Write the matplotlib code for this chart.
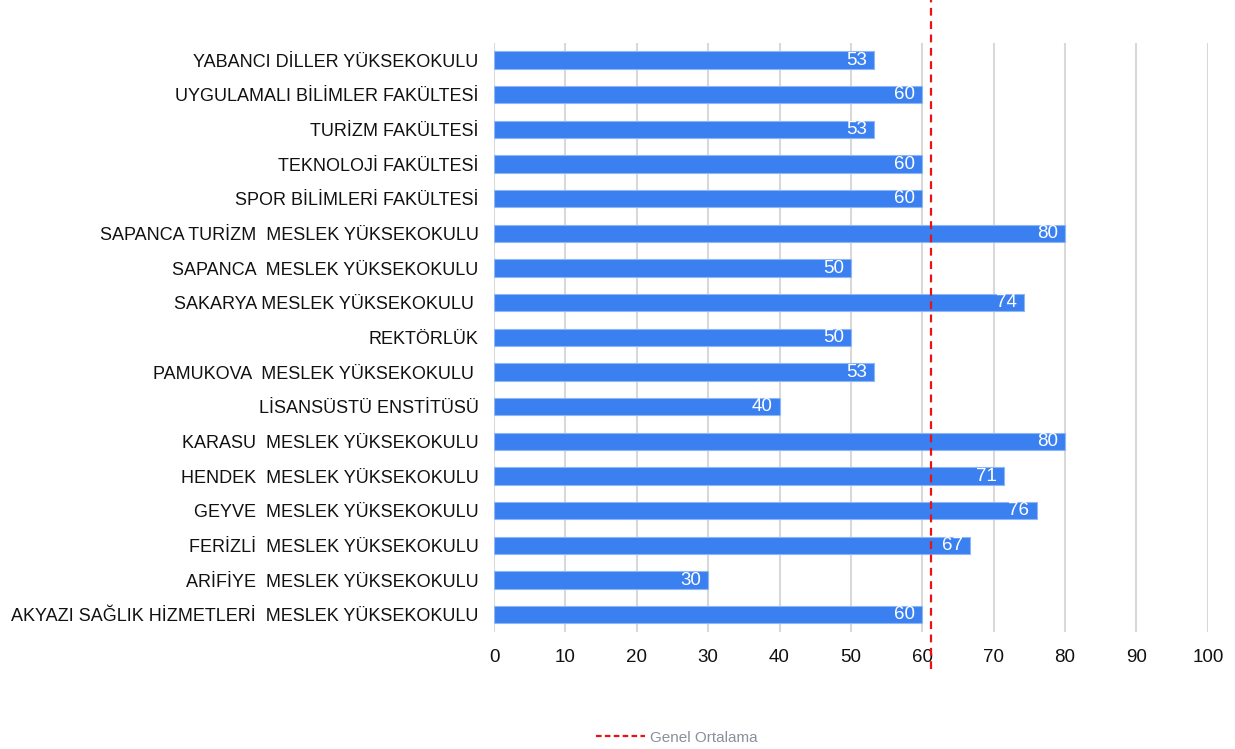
import numpy as np
import matplotlib.pyplot as plt
from matplotlib.lines import Line2D

plt.rcParams['font.family'] = ['Liberation Sans', 'DejaVu Sans']

# Data (top to bottom as shown)
birimler = [
    "YABANCI DİLLER YÜKSEKOKULU",
    "UYGULAMALI BİLİMLER FAKÜLTESİ",
    "TURİZM FAKÜLTESİ",
    "TEKNOLOJİ FAKÜLTESİ",
    "SPOR BİLİMLERİ FAKÜLTESİ",
    "SAPANCA TURİZM  MESLEK YÜKSEKOKULU",
    "SAPANCA  MESLEK YÜKSEKOKULU",
    "SAKARYA MESLEK YÜKSEKOKULU ",
    "REKTÖRLÜK",
    "PAMUKOVA  MESLEK YÜKSEKOKULU ",
    "LİSANSÜSTÜ ENSTİTÜSÜ",
    "KARASU  MESLEK YÜKSEKOKULU",
    "HENDEK  MESLEK YÜKSEKOKULU",
    "GEYVE  MESLEK YÜKSEKOKULU",
    "FERİZLİ  MESLEK YÜKSEKOKULU",
    "ARİFİYE  MESLEK YÜKSEKOKULU",
    "AKYAZI SAĞLIK HİZMETLERİ  MESLEK YÜKSEKOKULU",
]
puanlar = [53.3, 60, 53.3, 60, 60, 80, 50, 74.3, 50, 53.3, 40, 80, 71.4, 76, 66.7, 30, 60]
etiketler = ["53", "60", "53", "60", "60", "80", "50", "74", "50", "53", "40", "80", "71", "76", "67", "30", "60"]
genel_ortalama = 61.2

fig = plt.figure(figsize=(12.35, 7.49), dpi=100)
ax = fig.add_axes([0.4, 0.156, 0.578, 0.787])

y = np.arange(len(birimler))[::-1]
bars = ax.barh(y, puanlar, height=0.5, color="#3a80f0", edgecolor="#8fb6f5", linewidth=0.8, zorder=2)

for b, lab in zip(bars, etiketler):
    ax.text(b.get_width() - 1.0, b.get_y() + b.get_height() / 2, lab,
            ha="right", va="center", color="white", fontsize=13.5, zorder=3)

ax.set_xlim(0, 100)
ax.set_ylim(-0.5, len(birimler) - 0.5)
ax.set_xticks(np.arange(0, 101, 10))
ax.set_yticks(y)
ax.set_yticklabels(birimler)
ax.tick_params(axis="both", length=0, colors="#111111")
ax.tick_params(axis="y", pad=11, labelsize=13)
ax.tick_params(axis="x", pad=12, labelsize=13.5)
ax.grid(axis="x", color="#d9d9d9", linewidth=1.5, zorder=0)
for s in ax.spines.values():
    s.set_visible(False)

ax.axvline(genel_ortalama, ymin=-0.062, ymax=1.075, color="#ee1111", linestyle=(0, (3.5, 2.5)),
           linewidth=1.6, clip_on=False, zorder=4)

handle = Line2D([], [], color="#ee1111", linestyle=(0, (2.5, 1.5)), linewidth=1.6)
fig.legend([handle], ["Genel Ortalama"], loc="center", bbox_to_anchor=(0.548, 0.015),
           frameon=False, fontsize=11, labelcolor="#8a8f99", handlelength=3.2, handletextpad=0.3)

plt.savefig("out.png", dpi=100)
